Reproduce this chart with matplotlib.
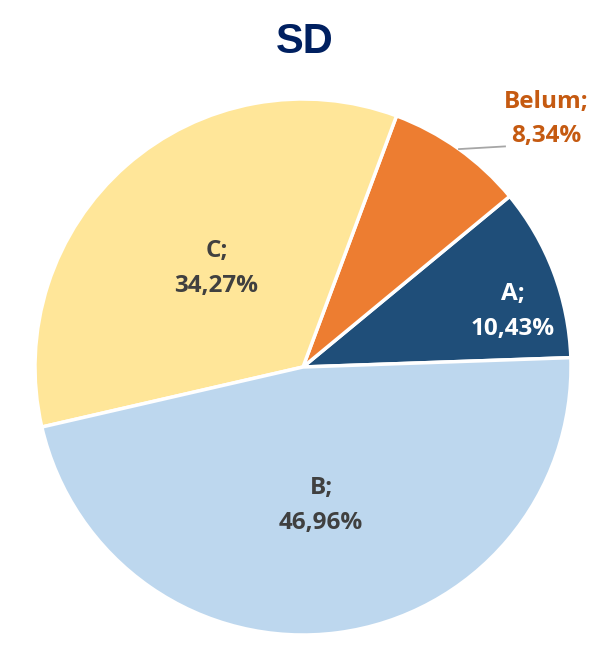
import matplotlib
matplotlib.use("Agg")
import matplotlib.pyplot as plt
import numpy as np

categories = ["A", "Belum", "C", "B"]
values = [10.43, 8.34, 34.27, 46.96]
colors = ["#1F4E79", "#ED7D31", "#FFE699", "#BDD7EE"]
label_colors = ["#FFFFFF", "#C55A11", "#404040", "#404040"]
label_radius = [0.81, None, 0.49, 0.52]
label_angle_shift = [-6.0, 0.0, 0.0, 0.0]

W, H = 591, 653
fig = plt.figure(figsize=(W / 100, H / 100), dpi=100)
ax = fig.add_axes([0, 0, 1, 1])
cx, cy, R = 303, 367, 268

wedges, _ = ax.pie(values, colors=colors, startangle=2, counterclock=True,
                   wedgeprops=dict(edgecolor="white", linewidth=2.5), radius=1.0)
ax.set_xlim((0 - cx) / R, (W - cx) / R)
ax.set_ylim((cy - H) / R, (cy - 0) / R)
ax.set_aspect("equal")
ax.axis("off")

font = ["Open Sans", "DejaVu Sans"]
for w, cat, v, lc, lr, sh in zip(wedges, categories, values, label_colors,
                                 label_radius, label_angle_shift):
    txt = f"{cat};\n{v:.2f}%".replace(".", ",")
    mid = np.deg2rad((w.theta1 + w.theta2) / 2 + sh)
    if lr is not None:
        ax.text(lr * np.cos(mid), lr * np.sin(mid), txt, ha="center", va="center",
                fontsize=17.5, fontweight="bold", color=lc, family=font, linespacing=1.6)
    else:
        ang = np.deg2rad(54.4)
        x0, y0 = np.cos(ang), np.sin(ang)
        ax.plot([x0, (505 - cx) / R], [y0, y0 + 0.01], color="#A6A6A6", lw=1.3)
        ax.text((546 - cx) / R, (cy - 119) / R, txt, ha="center", va="center",
                fontsize=17.5, fontweight="bold", color=lc, family=font, linespacing=1.6)

fig.text(305 / W, 1 - 42 / H, "SD", ha="center", va="center", fontsize=30,
         fontweight="bold", color="#002060", family=["Liberation Sans", "DejaVu Sans"])

fig.savefig("out.png", dpi=100, facecolor="white")
